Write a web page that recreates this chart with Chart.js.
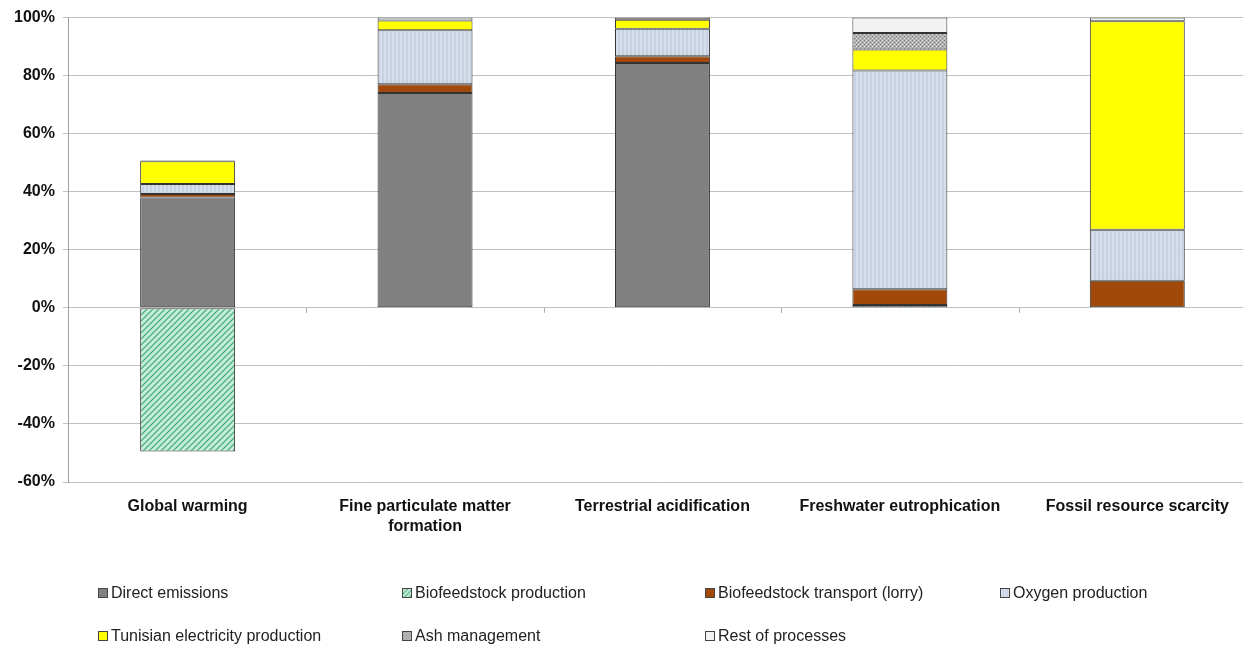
<!DOCTYPE html>
<html>
<head>
<meta charset="utf-8">
<script src="https://cdn.jsdelivr.net/npm/chart.js@4"></script>
<style>
  html, body { margin: 0; padding: 0; background: #fff; overflow: hidden; width: 1243px; height: 649px; }
  #wrap { position: absolute; left: 0; top: 0; width: 1262px; height: 649px; }
  #legend { position: absolute; left: 0; top: 0; width: 1243px; height: 649px; pointer-events: none;
    font-family: "Liberation Sans", Arial, sans-serif; font-size: 16px; color: #222; }
  .li { position: absolute; display: flex; align-items: center; white-space: nowrap; transform: translateY(-50%); }
  .li canvas { width: 10px; height: 10px; border: 1px solid #444; box-sizing: border-box; margin-right: 3px; }
</style>
</head>
<body>
<div id="wrap"><canvas id="c" width="1262" height="649"></canvas></div>
<div id="legend"></div>
<script>
const categories = ['Global warming', ['Fine particulate matter', 'formation'], 'Terrestrial acidification', 'Freshwater eutrophication', 'Fossil resource scarcity'];
const seriesNames = ['Direct emissions', 'Biofeedstock production', 'Biofeedstock transport (lorry)', 'Oxygen production', 'Tunisian electricity production', 'Ash management', 'Rest of processes'];
const directEmissions = [38, 74, 84.4, null, null];
const biofeedstockProduction = [-49.5, null, null, 1.0, null];
const biofeedstockTransport = [1.2, 3.0, 2.3, 5.4, 9.3];
const oxygenProduction = [3.5, 18.6, 9.5, 75.4, 17.6];
const electricityProduction = [7.8, 3.4, 3.1, 7.2, 71.8];
const ashManagement = [null, null, null, 5.7, null];
const restOfProcesses = [0.3, 1.0, 0.7, 5.3, 1.3];
const yTicks = [-60, -40, -20, 0, 20, 40, 60, 80, 100];

function makePattern(kind) {
  const c = document.createElement('canvas');
  const s = 6; c.width = s; c.height = s;
  const g = c.getContext('2d');
  if (kind === 'hatch') {
    g.fillStyle = '#c4ecd8'; g.fillRect(0, 0, s, s);
    g.strokeStyle = '#3aa774'; g.lineWidth = 1.2;
    g.beginPath();
    g.moveTo(-1, s + 1); g.lineTo(s + 1, -1);
    g.moveTo(-1, 1); g.lineTo(1, -1);
    g.moveTo(s - 1, s + 1); g.lineTo(s + 1, s - 1);
    g.stroke();
  } else if (kind === 'stripes') {
    c.width = 4; c.height = 4;
    g.fillStyle = '#c6d2e2'; g.fillRect(0, 0, 4, 4);
    g.fillStyle = '#d5dfeb'; g.fillRect(0, 0, 2, 4);
  } else if (kind === 'dots') {
    c.width = 4; c.height = 4;
    g.fillStyle = '#b4b4b4'; g.fillRect(0, 0, 4, 4);
    g.fillStyle = '#777'; g.fillRect(0, 0, 1, 1); g.fillRect(2, 2, 1, 1);
    g.fillStyle = '#d8d8d8'; g.fillRect(2, 0, 1, 1); g.fillRect(0, 2, 1, 1);
  }
  return g.createPattern(c, 'repeat');
}

const fills = ['#808080', makePattern('hatch'), '#a0490a', makePattern('stripes'), '#ffff00', makePattern('dots'), '#f2f2f2'];
const values = [directEmissions, biofeedstockProduction, biofeedstockTransport, oxygenProduction, electricityProduction, ashManagement, restOfProcesses];

const datasets = seriesNames.map((name, i) => ({
  label: name,
  data: values[i],
  backgroundColor: fills[i],
  borderColor: '#333333',
  borderWidth: 1,
  borderSkipped: false,
  barPercentage: 0.8,
  categoryPercentage: 0.5
}));

const catTicks = {
  id: 'catTicks',
  afterDatasetsDraw(chart) {
    const x = chart.scales.x, y = chart.scales.y, ctx = chart.ctx;
    const y0 = y.getPixelForValue(0);
    ctx.save();
    ctx.strokeStyle = '#b0b0b0'; ctx.lineWidth = 1;
    ctx.beginPath();
    for (let i = 1; i < categories.length; i++) {
      const px = Math.round((x.getPixelForValue(i - 1) + x.getPixelForValue(i)) / 2) + 0.5;
      ctx.moveTo(px, y0); ctx.lineTo(px, y0 + 5);
    }
    ctx.stroke();
    ctx.restore();
  }
};

const chart = new Chart(document.getElementById('c'), {
  type: 'bar',
  data: { labels: categories, datasets },
  plugins: [catTicks],
  options: {
    responsive: false,
    animation: false,
    layout: { padding: { top: 14, left: 6, right: 6, bottom: 105 } },
    plugins: { legend: { display: false }, tooltip: { enabled: false } },
    scales: {
      x: {
        stacked: true,
        grid: { display: false },
        border: { display: false },
        ticks: { color: '#111', padding: 7, maxRotation: 0, autoSkip: false,
          font: { family: '"Liberation Sans", Arial, sans-serif', size: 16, weight: 'bold', lineHeight: 1.25 } }
      },
      y: {
        stacked: true,
        min: -60, max: 100,
        afterBuildTicks(scale) { scale.ticks = yTicks.map(v => ({ value: v })); },
        grid: { color: '#c0c0c0', lineWidth: 1, tickLength: 6 },
        border: { display: true, color: '#a0a0a0' },
        ticks: { color: '#111', padding: 8, callback: v => v + '%',
          font: { family: '"Liberation Sans", Arial, sans-serif', size: 16, weight: 'bold' } }
      }
    }
  }
});

// HTML legend built from the datasets
const legendCols = [98, 402, 705, 1000];
const legendRows = [593, 636];
const legendEl = document.getElementById('legend');
datasets.forEach((ds, i) => {
  const item = document.createElement('div');
  item.className = 'li';
  item.style.left = legendCols[i % 4] + 'px';
  item.style.top = legendRows[Math.floor(i / 4)] + 'px';
  const sw = document.createElement('canvas');
  sw.width = 10; sw.height = 10;
  const g = sw.getContext('2d');
  g.fillStyle = ds.backgroundColor; g.fillRect(0, 0, 10, 10);
  item.appendChild(sw);
  const t = document.createElement('span');
  t.textContent = ds.label;
  item.appendChild(t);
  legendEl.appendChild(item);
});
</script>
</body>
</html>
